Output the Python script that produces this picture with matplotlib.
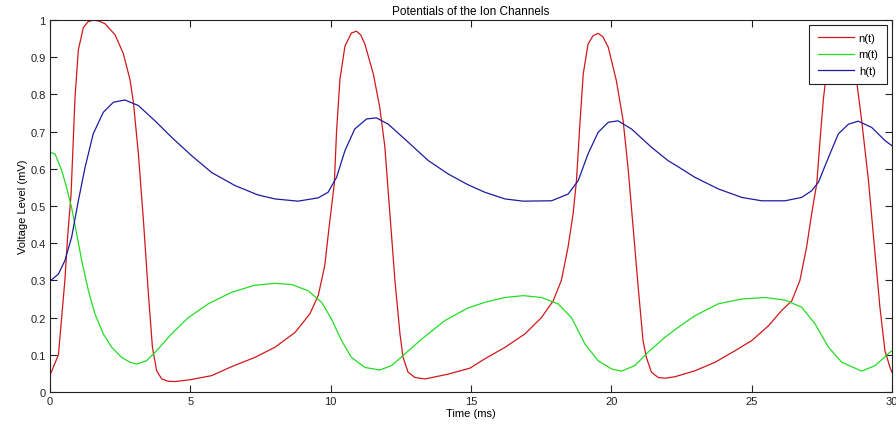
import numpy as np
import matplotlib.pyplot as plt

plt.rcParams['font.family'] = ['Liberation Sans', 'DejaVu Sans']

# values
n_t = [0.0, 0.3, 0.53, 0.63, 0.75, 0.89, 1.01, 1.19, 1.35, 1.54, 1.75, 1.96, 2.32,
       2.61, 2.85, 2.97, 3.15, 3.33, 3.5, 3.65, 3.8, 3.98, 4.2, 4.45, 5.0, 5.76,
       6.47, 7.3, 8.01, 8.73, 9.26, 9.56, 9.79, 9.97, 10.13, 10.21, 10.33, 10.51,
       10.74, 10.92, 11.07, 11.22, 11.52, 11.75, 11.93, 12.11, 12.29, 12.47, 12.58,
       12.76, 13.0, 13.36, 14.19, 14.96, 15.49, 16.21, 16.92, 17.51, 17.93, 18.22,
       18.46, 18.64, 18.76, 18.88, 19.0, 19.17, 19.35, 19.53, 19.7, 19.89, 20.18,
       20.42, 20.6, 20.78, 20.96, 21.13, 21.25, 21.43, 21.67, 21.91, 22.27, 22.98,
       23.7, 24.41, 25.0, 25.6, 26.07, 26.43, 26.72, 26.96, 27.14, 27.32, 27.44,
       27.56, 27.7, 27.85, 28.05, 28.3, 28.55, 28.74, 28.92, 29.16, 29.4, 29.57,
       29.75, 29.93, 30.0]
n_v = [0.045, 0.10, 0.30, 0.42, 0.53, 0.79, 0.92, 0.98, 0.995, 1.0, 0.997, 0.99,
       0.96, 0.91, 0.84, 0.78, 0.64, 0.46, 0.27, 0.12, 0.057, 0.035, 0.029, 0.028,
       0.033, 0.044, 0.068, 0.093, 0.12, 0.16, 0.21, 0.26, 0.34, 0.46, 0.56, 0.70,
       0.84, 0.93, 0.965, 0.97, 0.96, 0.935, 0.855, 0.765, 0.66, 0.48, 0.30, 0.156,
       0.093, 0.053, 0.039, 0.035, 0.048, 0.064, 0.089, 0.12, 0.156, 0.20, 0.245,
       0.30, 0.39, 0.48, 0.57, 0.72, 0.855, 0.935, 0.958, 0.964, 0.955, 0.927,
       0.837, 0.73, 0.60, 0.44, 0.28, 0.138, 0.093, 0.053, 0.039, 0.037, 0.041,
       0.057, 0.08, 0.111, 0.138, 0.178, 0.219, 0.245, 0.30, 0.39, 0.48, 0.56,
       0.68, 0.79, 0.88, 0.93, 0.96, 0.94, 0.90, 0.837, 0.73, 0.57, 0.37, 0.228,
       0.111, 0.066, 0.053]

m_t = [0.0, 0.18, 0.42, 0.59, 0.77, 0.95, 1.13, 1.37, 1.6, 1.9, 2.2, 2.55, 2.85,
       3.09, 3.44, 3.8, 4.33, 4.93, 5.64, 6.47, 7.3, 8.01, 8.61, 9.2, 9.68, 10.03,
       10.39, 10.74, 11.22, 11.75, 12.17, 12.64, 13.24, 14.07, 14.87, 15.49, 16.21,
       16.86, 17.51, 18.1, 18.58, 19.06, 19.53, 20.01, 20.36, 20.84, 21.31, 21.91,
       22.35, 22.98, 23.81, 24.65, 25.48, 26.19, 26.78, 27.26, 27.74, 28.21, 28.92,
       29.4, 29.93, 30.0]
m_v = [0.644, 0.64, 0.595, 0.55, 0.496, 0.425, 0.353, 0.272, 0.21, 0.156, 0.12,
       0.093, 0.08, 0.075, 0.084, 0.111, 0.156, 0.20, 0.237, 0.268, 0.287, 0.292,
       0.289, 0.272, 0.241, 0.196, 0.138, 0.093, 0.066, 0.059, 0.071, 0.102, 0.142,
       0.192, 0.225, 0.241, 0.254, 0.259, 0.254, 0.237, 0.20, 0.129, 0.084, 0.062,
       0.056, 0.071, 0.107, 0.147, 0.172, 0.205, 0.237, 0.25, 0.254, 0.247, 0.228,
       0.183, 0.12, 0.08, 0.056, 0.071, 0.107, 0.11]

h_t = [0.0, 0.3, 0.53, 0.77, 1.01, 1.25, 1.54, 1.9, 2.26, 2.67, 3.15, 3.74, 4.33,
       5.05, 5.76, 6.59, 7.4, 8.01, 8.84, 9.56, 9.91, 10.21, 10.51, 10.86, 11.28,
       11.63, 12.05, 12.64, 13.48, 14.19, 14.87, 15.49, 16.21, 16.86, 17.87, 18.46,
       18.82, 19.17, 19.53, 19.89, 20.24, 20.72, 21.43, 22.02, 22.35, 22.98, 23.81,
       24.65, 25.36, 26.19, 26.78, 27.14, 27.38, 27.74, 28.09, 28.45, 28.8, 29.28,
       29.75, 30.0]
h_v = [0.298, 0.317, 0.353, 0.416, 0.514, 0.604, 0.694, 0.752, 0.779, 0.785, 0.77,
       0.729, 0.685, 0.635, 0.59, 0.555, 0.53, 0.519, 0.513, 0.522, 0.537, 0.577,
       0.649, 0.707, 0.734, 0.737, 0.72, 0.68, 0.622, 0.586, 0.558, 0.537, 0.519,
       0.513, 0.514, 0.532, 0.568, 0.64, 0.698, 0.725, 0.729, 0.707, 0.658, 0.622,
       0.607, 0.577, 0.546, 0.523, 0.514, 0.514, 0.523, 0.541, 0.564, 0.631, 0.694,
       0.72, 0.728, 0.711, 0.676, 0.662]

fig = plt.figure(figsize=(8.96, 4.35), dpi=100)
ax = fig.add_axes([0.0558, 0.0966, 0.9397, 0.8551])

ax.plot(n_t, n_v, color='#d01818', lw=0.9, label='n(t)')
ax.plot(m_t, m_v, color='#22dd22', lw=0.9, label='m(t)')
ax.plot(h_t, h_v, color='#1c1ca0', lw=0.9, label='h(t)')

ax.set_xlim(0, 30)
ax.set_ylim(0, 1)
ax.set_xticks(np.arange(0, 31, 5))
ax.set_yticks(np.arange(0, 1.01, 0.1))
ax.set_yticklabels(['0', '0.1', '0.2', '0.3', '0.4', '0.5', '0.6', '0.7', '0.8', '0.9', '1'])
ax.tick_params(direction='in', length=5, width=0.8, labelsize=8, top=True, right=True,
               colors='#222222', pad=3)
for s in ax.spines.values():
    s.set_linewidth(0.8)
    s.set_color('#222222')

ax.set_title('Potentials of the Ion Channels', fontsize=8.5, pad=4)
ax.set_xlabel('Time (ms)', fontsize=8, labelpad=1)
ax.set_ylabel('Voltage Level (mV)', fontsize=8, labelpad=2)

leg = ax.legend(loc='upper right', fontsize=8, fancybox=False, framealpha=1,
                edgecolor='#222222', handlelength=3.3, borderpad=0.75,
                labelspacing=0.55, handletextpad=0.4, borderaxespad=0.45)
leg.get_frame().set_linewidth(0.8)

fig.savefig('out.png', dpi=100)
